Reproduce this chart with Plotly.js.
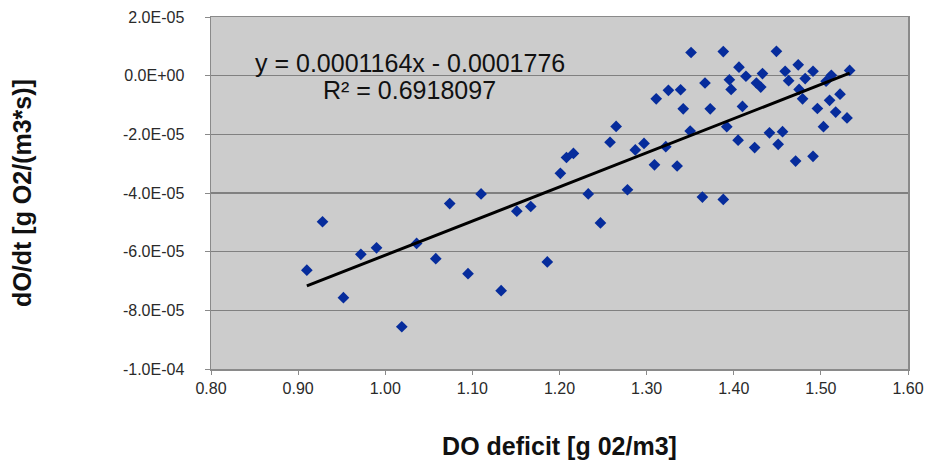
<!DOCTYPE html>
<html>
<head>
<meta charset="utf-8">
<script src="https://cdn.plot.ly/plotly-3.0.1.min.js"></script>
<style>
  html, body { margin: 0; padding: 0; background: #ffffff; }
  #chart { width: 926px; height: 461px; }
</style>
</head>
<body>
<div id="chart"></div>
<script>
// DO deficit [g O2/m3] of each measurement
const doDeficit = [
  0.910, 0.928, 0.952, 0.972, 0.990, 1.019, 1.036, 1.058, 1.074, 1.095,
  1.110, 1.133, 1.151, 1.167, 1.186, 1.201, 1.208, 1.216, 1.233, 1.247,
  1.258, 1.265, 1.278, 1.287, 1.297, 1.309, 1.311, 1.322, 1.325, 1.335,
  1.339, 1.342, 1.350, 1.351, 1.364, 1.367, 1.373, 1.388, 1.388, 1.392,
  1.395, 1.397, 1.405, 1.406, 1.410, 1.414, 1.424, 1.426, 1.431, 1.433,
  1.441, 1.449, 1.451, 1.456, 1.459, 1.463, 1.471, 1.474, 1.475, 1.479,
  1.482, 1.491, 1.491, 1.496, 1.503, 1.506, 1.510, 1.512, 1.517, 1.522,
  1.530, 1.533
];

// Measured rate of change dO/dt [g O2/(m3*s)]
const dOdt = [
  -6.63e-5, -4.98e-5, -7.57e-5, -6.09e-5, -5.87e-5, -8.56e-5, -5.72e-5, -6.24e-5, -4.36e-5, -6.75e-5,
  -4.03e-5, -7.33e-5, -4.62e-5, -4.46e-5, -6.35e-5, -3.33e-5, -2.79e-5, -2.65e-5, -4.03e-5, -5.02e-5,
  -2.27e-5, -1.73e-5, -3.89e-5, -2.53e-5, -2.31e-5, -3.04e-5, -7.9e-6, -2.42e-5, -5.0e-6, -3.08e-5,
  -4.8e-6, -1.13e-5, -1.89e-5, 7.9e-6, -4.14e-5, -2.5e-6, -1.13e-5, 8.2e-6, -4.22e-5, -1.74e-5,
  -1.4e-6, -4.7e-6, -2.20e-5, 2.9e-6, -1.05e-5, -2.0e-7, -2.45e-5, -2.5e-6, -3.9e-6, 7.0e-7,
  -1.95e-5, 8.3e-6, -2.34e-5, -1.91e-5, 1.5e-6, -1.7e-6, -2.91e-5, 3.7e-6, -4.7e-6, -7.9e-6,
  -1.0e-6, -2.75e-5, 1.5e-6, -1.12e-5, -1.74e-5, -1.9e-6, -8.4e-6, 1.0e-7, -1.24e-5, -6.3e-6,
  -1.44e-5, 1.8e-6
];

// Linear trendline coefficients and fit quality
const slope = 0.0001164;
const intercept = -0.0001776;
const rSquared = '0.6918097';

// Axis ticks
const xTickVals = [0.80, 0.90, 1.00, 1.10, 1.20, 1.30, 1.40, 1.50, 1.60];
const xTickText = ['0.80', '0.90', '1.00', '1.10', '1.20', '1.30', '1.40', '1.50', '1.60'];
const yTickVals = [2e-5, 0, -2e-5, -4e-5, -6e-5, -8e-5, -1e-4];
const yTickText = ['2.0E-05', '0.0E+00', '-2.0E-05', '-4.0E-05', '-6.0E-05', '-8.0E-05', '-1.0E-04'];

// Trendline spans the range of the measurements
const xMin = Math.min(...doDeficit);
const xMax = Math.max(...doDeficit);
const trendX = [xMin, xMax];
const trendY = trendX.map(x => slope * x + intercept);

const font = 'Liberation Sans, Arial, sans-serif';

const traces = [
  {
    type: 'scatter',
    mode: 'markers',
    x: doDeficit,
    y: dOdt,
    marker: { symbol: 'diamond', size: 9, color: '#062c9c', line: { width: 0 } },
    hoverinfo: 'x+y',
    showlegend: false
  },
  {
    type: 'scatter',
    mode: 'lines',
    x: trendX,
    y: trendY,
    line: { color: '#000000', width: 3 },
    hoverinfo: 'skip',
    showlegend: false
  }
];

const layout = {
  width: 926,
  height: 461,
  margin: { l: 211, r: 18, t: 17, b: 92 },
  paper_bgcolor: '#ffffff',
  plot_bgcolor: '#cccccc',
  font: { family: font, color: '#2a2a2a', size: 16 },
  showlegend: false,
  xaxis: {
    range: [0.80, 1.60],
    tickvals: xTickVals,
    ticktext: xTickText,
    showgrid: false,
    zeroline: false,
    showline: true,
    mirror: true,
    linecolor: '#8a8a8a',
    linewidth: 1.5,
    ticks: 'outside',
    ticklen: 4,
    tickcolor: '#8a8a8a',
    tickfont: { family: font, size: 16, color: '#2a2a2a' },
    title: {
      text: 'DO deficit [g 02/m3]',
      font: { family: font, size: 25, color: '#111111', weight: 'bold' },
      standoff: 42
    }
  },
  yaxis: {
    range: [-1e-4, 2e-5],
    tickvals: yTickVals,
    ticktext: yTickText,
    showgrid: true,
    gridcolor: '#808080',
    gridwidth: 1.5,
    zeroline: false,
    showline: true,
    mirror: true,
    linecolor: '#8a8a8a',
    linewidth: 1.5,
    ticks: 'outside',
    ticklen: 5,
    tickcolor: '#8a8a8a',
    ticklabelstandoff: 17,
    tickfont: { family: font, size: 16, color: '#2a2a2a' },
    title: {
      text: 'dO/dt [g O2/(m3*s)]',
      font: { family: font, size: 25, color: '#111111', weight: 'bold' },
      standoff: 84
    }
  },
  annotations: [
    {
      xref: 'paper', yref: 'paper',
      x: 0.2854, y: 0.868,
      xanchor: 'center', yanchor: 'middle',
      text: 'y = ' + slope.toFixed(7) + 'x - ' + Math.abs(intercept).toFixed(7),
      showarrow: false,
      font: { family: font, size: 25, color: '#111111' }
    },
    {
      xref: 'paper', yref: 'paper',
      x: 0.2854, y: 0.792,
      xanchor: 'center', yanchor: 'middle',
      text: 'R² = ' + rSquared,
      showarrow: false,
      font: { family: font, size: 25, color: '#111111' }
    }
  ]
};

Plotly.newPlot('chart', traces, layout, { displayModeBar: false, staticPlot: true });
</script>
</body>
</html>
